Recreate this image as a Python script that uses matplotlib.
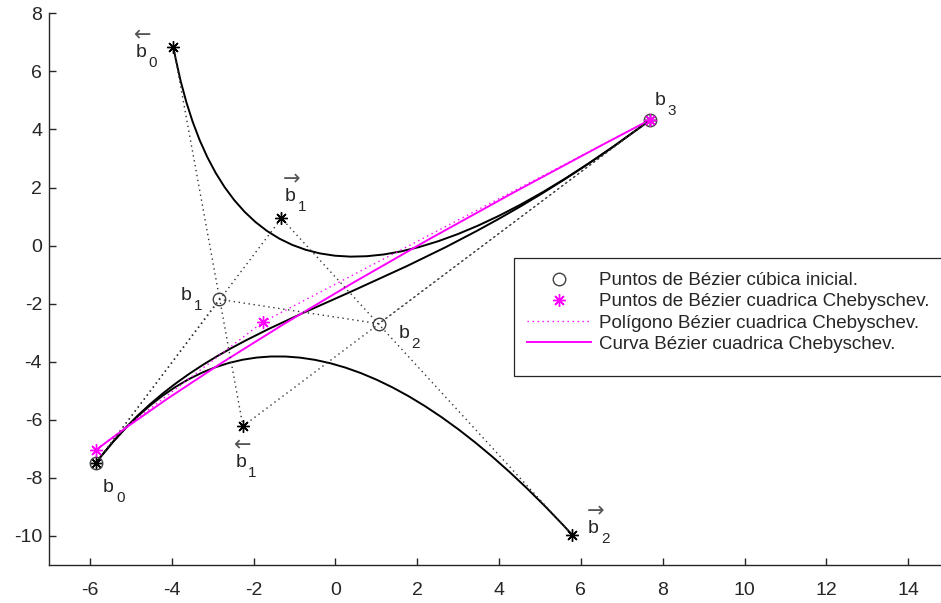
import matplotlib
matplotlib.use("Agg")
import matplotlib.pyplot as plt
from matplotlib.path import Path
from matplotlib.patches import PathPatch, Rectangle
from matplotlib.lines import Line2D

plt.rcParams["font.family"] = ["Liberation Sans", "DejaVu Sans"]
plt.rcParams["axes.unicode_minus"] = False

# initial cubic control points b0..b3
cubic_x = [-5.86, -2.84, 1.06, 7.70]
cubic_y = [-7.50, -1.85, -2.69, 4.34]
# forward reduced quadratic: b0, ->b1, ->b2
fwd_x = [-5.86, -1.32, 5.78]
fwd_y = [-7.50, 0.94, -9.95]
# backward reduced quadratic: <-b0, <-b1, b3
bwd_x = [-3.96, -2.26, 7.70]
bwd_y = [6.84, -6.22, 4.34]
# Chebyshev quadratic
cheb_x = [-5.84, -1.77, 7.70]
cheb_y = [-7.03, -2.63, 4.34]

legend_labels = [
    "Puntos de Bézier cúbica inicial.",
    "Puntos de Bézier cuadrica Chebyschev.",
    "Polígono Bézier cuadrica Chebyschev.",
    "Curva Bézier cuadrica Chebyschev.",
]

AX = "#262626"
MAG = "#FF00FF"
DOT = (0, (1, 2.6))


def bezier(ax, xs, ys, **kw):
    verts = list(zip(xs, ys))
    if len(verts) == 4:
        codes = [Path.MOVETO, Path.CURVE4, Path.CURVE4, Path.CURVE4]
    else:
        codes = [Path.MOVETO, Path.CURVE3, Path.CURVE3]
    ax.add_patch(PathPatch(Path(verts, codes), facecolor="none", **kw))


def point_label(ax, x, y, dx, dy, sub, arrow=None):
    kw = dict(textcoords="offset points", va="baseline", color=AX)
    ax.annotate("b", (x, y), xytext=(dx, dy), ha="left", fontsize=14, **kw)
    ax.annotate(sub, (x, y), xytext=(dx + 9.3, dy - 7.2), ha="left", fontsize=11, **kw)
    if arrow:
        ax.annotate(arrow, (x, y), xytext=(dx + 5, dy + 11.5), ha="center",
                    textcoords="offset points", va="baseline", color="#555555",
                    fontsize=15, family="DejaVu Sans")


fig = plt.figure(figsize=(9.41, 6.03), dpi=100)
ax = fig.add_axes([49 / 941, 38 / 603, 892 / 941, 551.7 / 603])

# control polygons
ax.plot(cubic_x, cubic_y, color="0.2", lw=1.0, ls=DOT)
ax.plot(fwd_x, fwd_y, color="0.2", lw=1.0, ls=DOT)
ax.plot(bwd_x, bwd_y, color="0.2", lw=1.0, ls=DOT)

# curves
bezier(ax, cubic_x, cubic_y, edgecolor="k", lw=1.4)
bezier(ax, fwd_x, fwd_y, edgecolor="k", lw=1.4)
bezier(ax, bwd_x, bwd_y, edgecolor="k", lw=1.4)

star = (8, 2, 0)
ax.plot(fwd_x, fwd_y, ls="none", marker=star, ms=9, mec="k", mew=1.0)
ax.plot(bwd_x, bwd_y, ls="none", marker=star, ms=9, mec="k", mew=1.0)
h_circ, = ax.plot(cubic_x, cubic_y, ls="none", marker="o", ms=9, mfc="none",
                  mec="#404040", mew=1.0)

h_star, = ax.plot(cheb_x, cheb_y, ls="none", marker=star, ms=9, mec=MAG, mew=1.0)
h_poly, = ax.plot(cheb_x, cheb_y, color=MAG, lw=1.0, ls=DOT)
bezier(ax, cheb_x, cheb_y, edgecolor=MAG, lw=1.4)
h_curve = Line2D([], [], color=MAG, lw=1.4)

# point labels (offsets in points from each point)
point_label(ax, cubic_x[0], cubic_y[0], 5.3, -20.4, "0")
point_label(ax, cubic_x[1], cubic_y[1], -27.6, -0.7, "1")
point_label(ax, cubic_x[2], cubic_y[2], 14.2, -10.6, "2")
point_label(ax, cubic_x[3], cubic_y[3], 2.7, 10.3, "3")
point_label(ax, fwd_x[1], fwd_y[1], 2.4, 12.5, "1", "→")
point_label(ax, fwd_x[2], fwd_y[2], 11.7, 0.9, "2", "→")
point_label(ax, bwd_x[0], bwd_y[0], -27.4, -7.2, "0", "←")
point_label(ax, bwd_x[1], bwd_y[1], -5.5, -29.5, "1", "←")

ax.set_xlim(-7, 14.8)
ax.set_ylim(-11, 8)
ax.set_xticks(range(-6, 15, 2))
ax.set_yticks(range(-10, 9, 2))
for s in ["top", "right"]:
    ax.spines[s].set_visible(False)
for s in ["left", "bottom"]:
    ax.spines[s].set_color(AX)
    ax.spines[s].set_linewidth(1.0)
ax.tick_params(direction="in", length=5, width=1.0, color=AX, labelcolor=AX,
               labelsize=14)
ax.tick_params(axis="x", pad=12)
ax.tick_params(axis="y", pad=5)

# legend box (drawn separately, as it runs off the right edge)
ax.add_patch(Rectangle((0.5213, 0.3426), 0.6, 0.2139, transform=ax.transAxes,
                       facecolor="white", edgecolor=AX, lw=0.9, clip_on=False,
                       zorder=4))
leg = ax.legend([h_circ, h_star, h_poly, h_curve], legend_labels, loc="upper left",
                bbox_to_anchor=(0.536, 0.531), borderaxespad=0, borderpad=0,
                fontsize=13.5, frameon=False, handlelength=3.4,
                handletextpad=0.45, labelspacing=0.22)
leg.set_zorder(5)
for t in leg.get_texts():
    t.set_color(AX)

fig.savefig("out.png", dpi=100)
